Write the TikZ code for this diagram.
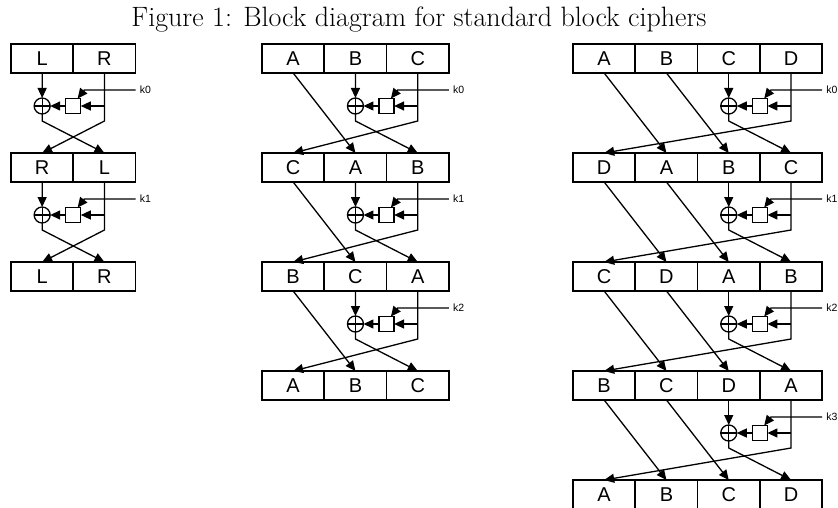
\documentclass[tikz,border=0pt]{standalone}
\usepackage{fontspec}
\newfontfamily\labfont{Liberation Sans}
\usetikzlibrary{arrows.meta}
\tikzset{
  cellbox/.style={draw, line width=1.7pt, minimum width=62.3pt, minimum height=29pt, inner sep=0pt, outer sep=0pt, font=\labfont\fontsize{20}{20}\selectfont},
  xorbox/.style={draw, circle, line width=1.3pt, minimum size=16pt, inner sep=0pt, outer sep=0pt},
  fbox/.style={draw, rectangle, line width=1.3pt, minimum size=15pt, inner sep=0pt, outer sep=0pt},
  keylab/.style={anchor=west, inner sep=0pt, font=\labfont\fontsize{10.5}{10.5}\selectfont},
  wire/.style={line width=1.3pt},
  arr/.style={wire, -{Triangle[length=10pt,width=9pt]}},
  titlelab/.style={anchor=base, inner sep=0pt, font=\fontsize{28}{32}\selectfont}
}
% #1 name, #2 x0, #3 ncols, #4 rounds, #5 list of row label lists
\newcommand{\cipherdiag}[5]{%
  \foreach \rowlist [count=\r from 0] in {#5} {
    \foreach \lab [count=\c] in \rowlist {
      \node[cellbox] (#1-\r-\c) at ({#2+(\c-0.5)*62.3}, {44+109*\r+14.5}) {\lab};
    }
  }
  \foreach \r in {1,...,#4} {
    \pgfmathtruncatemacro{\rp}{\r-1}
    \pgfmathsetmacro{\yb}{44+109*\rp+29}
    \pgfmathtruncatemacro{\nm}{#3-1}
    \pgfmathsetmacro{\dv}{#2+\nm*62.3}
    \node[xorbox] (#1-x-\rp) at ({\dv-31.15}, {\yb+33}) {};
    \draw[wire] (#1-x-\rp.north) -- (#1-x-\rp.south) (#1-x-\rp.east) -- (#1-x-\rp.west);
    \node[fbox] (#1-f-\rp) at ({\dv}, {\yb+33}) {};
    \coordinate (#1-v-\rp) at ({\dv+31.15}, {\yb+48});
    \coordinate (#1-o-\rp) at ({\dv-31.15}, {\yb+48});
    \coordinate (#1-b-\rp) at ({\dv+31.15}, {\yb+33});
    \coordinate (#1-kb-\rp) at ({\dv+11}, {\yb+17});
    \node[keylab] (#1-k-\rp) at ({#2+#3*62.3+4}, {\yb+17}) {k\rp};
    \draw[arr] (#1-\rp-\nm.south) -- (#1-x-\rp.north);
    \draw[arr] (#1-\rp-#3.south) -- (#1-v-\rp) -- (#1-\r-1.north);
    \draw[arr] (#1-b-\rp) -- (#1-f-\rp.east);
    \draw[arr] (#1-f-\rp.west) -- (#1-x-\rp.east);
    \draw[arr] (#1-x-\rp.south) -- (#1-o-\rp) -- (#1-\r-#3.north);
    \draw[arr] ([xshift=-4pt]#1-k-\rp.west) -- (#1-kb-\rp) -- (#1-f-\rp.60);
    \ifnum\nm>1
      \pgfmathtruncatemacro{\nmm}{#3-2}
      \foreach \c in {1,...,\nmm} {
        \pgfmathtruncatemacro{\cn}{\c+1}
        \draw[arr] (#1-\rp-\c.south) -- (#1-\r-\cn.north);
      }
    \fi
  }
}
\begin{document}
\begin{tikzpicture}[x=1pt, y=-1pt]
\useasboundingbox (0,0) rectangle (838,508);
\node[titlelab] (title) at (419,27) {Figure 1: Block diagram for standard block ciphers};
\cipherdiag{a}{11}{2}{2}{{L,R},{R,L},{L,R}}
\cipherdiag{b}{262}{3}{3}{{A,B,C},{C,A,B},{B,C,A},{A,B,C}}
\cipherdiag{c}{573}{4}{4}{{A,B,C,D},{D,A,B,C},{C,D,A,B},{B,C,D,A},{A,B,C,D}}
\end{tikzpicture}
\end{document}
